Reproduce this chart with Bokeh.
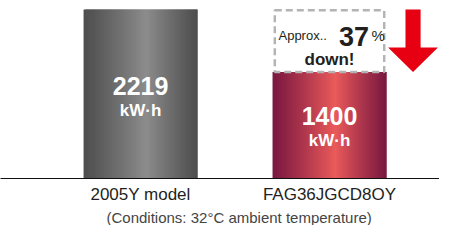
from bokeh.plotting import figure
from bokeh.models import Range1d, ColumnDataSource, Title
from bokeh.core.properties import value
from bokeh.embed import file_html
from bokeh.resources import INLINE

# ---- data ----
categories = ["2005Y model", "FAG36JGCD8OY"]
energy = [2219, 1400]
unit = "kW·h"
reduction_pct = 37
condition_note = "(Conditions: 32°C ambient temperature)"

FONT = value("Liberation Sans")

p = figure(width=439, height=225, output_backend="svg", toolbar_location=None,
           x_range=Range1d(-0.741, 1.582), y_range=Range1d(0, 2338),
           min_border_left=0, min_border_right=0, min_border_top=0, min_border_bottom=0)
p.outline_line_color = None
p.grid.visible = False
p.yaxis.visible = False
p.background_fill_color = "white"
p.border_fill_color = "white"

xs = list(range(len(categories)))
ax = p.xaxis[0]
ax.ticker = xs
ax.major_label_overrides = {i: c for i, c in enumerate(categories)}
ax.major_tick_line_color = None
ax.minor_tick_line_color = None
ax.major_tick_out = 0
ax.major_tick_in = 0
ax.axis_line_color = "#111111"
ax.axis_line_width = 1.2
ax.major_label_standoff = 6
ax.major_label_text_font = "Liberation Sans"
ax.major_label_text_font_size = "17px"
ax.major_label_text_color = "#231f20"

note = Title(text=condition_note, align="left", offset=106, text_font="Liberation Sans",
             text_font_size="15px", text_font_style="normal", text_color="#444444",
             standoff=0)
p.add_layout(note, "below")

# ---- gradient bars (overlapping vertical strips, each topped at the bar's value) ----
bar_w = 0.603
N = 57

def lerp(c1, c2, t):
    return tuple(int(round(a + (b - a) * t)) for a, b in zip(c1, c2))

grad = [((78, 78, 78), (140, 140, 140)), ((122, 24, 64), (234, 90, 90))]
peak = 0.55
for i, (x0, v) in enumerate(zip(xs, energy)):
    edge, center = grad[i]
    left0 = x0 - bar_w / 2
    sw = bar_w / N
    L, R, tops, cols = [], [], [], []
    for k in range(N):
        t = (k + 0.5) / N
        d = t / peak if t < peak else (1 - t) / (1 - peak)
        c = lerp(edge, center, d ** 1.1)
        L.append(left0 + k * sw)
        R.append(min(left0 + (k + 2) * sw, left0 + bar_w))
        tops.append(v)
        cols.append("#%02x%02x%02x" % c)
    src = ColumnDataSource(dict(left=L, right=R, top=tops, color=cols))
    p.quad(left="left", right="right", top="top", bottom=0, source=src,
           fill_color="color", line_color=None)

# ---- value labels inside bars ----
for i, (x0, v) in enumerate(zip(xs, energy)):
    off_num, off_unit = [(76, 101), (44, 69)][i]
    p.text(x=[x0], y=[v], text=[str(v)], y_offset=off_num,
           text_align="center", text_baseline="middle", text_color="white",
           text_font=FONT, text_font_style="bold", text_font_size="25px")
    p.text(x=[x0], y=[v], text=[unit], y_offset=off_unit,
           text_align="center", text_baseline="middle", text_color="white",
           text_font=FONT, text_font_style="bold", text_font_size="17px")

# ---- dashed box marking the reduction ----
inset = 0.012
bx = xs[1]
p.quad(left=[bx - bar_w / 2 + inset], right=[bx + bar_w / 2 - inset],
       bottom=[energy[1]], top=[energy[0] - 10], fill_color=None,
       line_color="#b4b4b4", line_width=2.5, line_dash="7 4")

p.text(x=[bx - 0.27], y=[energy[0]], text=["Approx.."], y_offset=26,
       text_align="left", text_baseline="alphabetic", text_color="#231f20",
       text_font=FONT, text_font_size="13px")
p.text(x=[bx + 0.13], y=[energy[0]], text=[str(reduction_pct)], y_offset=27,
       text_align="center", text_baseline="alphabetic", text_color="#231f20",
       text_font=FONT, text_font_style="bold", text_font_size="27px")
p.text(x=[bx + 0.222], y=[energy[0]], text=["%"], y_offset=26,
       text_align="left", text_baseline="alphabetic", text_color="#231f20",
       text_font=FONT, text_font_size="15px")
p.text(x=[bx], y=[energy[0]], text=["down!"], y_offset=50,
       text_align="center", text_baseline="alphabetic", text_color="#231f20",
       text_font=FONT, text_font_style="bold", text_font_size="17px")

# ---- red arrow from old value down to new value ----
ac = 1.442
shaft = 0.04
head = 0.132
head_y = energy[1] + (energy[0] - energy[1]) * 0.39
p.patch(x=[ac - shaft, ac + shaft, ac + shaft, ac + head, ac, ac - head, ac - shaft],
        y=[energy[0], energy[0], head_y, head_y, energy[1], head_y, head_y],
        fill_color="#e60012", line_color=None)

open("out.html", "w").write(file_html(p, INLINE))
